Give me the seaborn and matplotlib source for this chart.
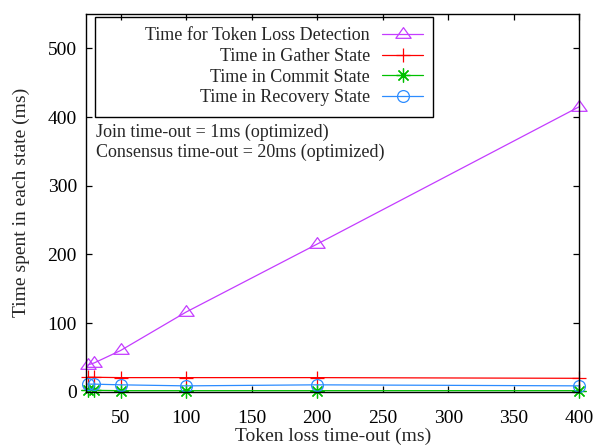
import matplotlib
matplotlib.use("Agg")
import matplotlib.pyplot as plt
from matplotlib.patches import Rectangle
from matplotlib.path import Path
import seaborn as sns
import pandas as pd

# ---- data ----
timeouts = [25, 30, 50, 100, 200, 400]
token_loss = [39, 42, 60, 116, 215, 415]
gather = [21, 21, 20.5, 20.5, 20.5, 19.5]
commit = [2, 2, 1.5, 1.5, 1.5, 1.5]
recovery = [11, 11, 10, 8.5, 10, 8.5]

series_names = ["Time for Token Loss Detection", "Time in Gather State",
                "Time in Commit State", "Time in Recovery State"]
x_ticks = [50, 100, 150, 200, 250, 300, 350, 400]
y_ticks = [0, 100, 200, 300, 400, 500]
notes = ["Join time-out = 1ms (optimized)",
         "Consensus time-out = 20ms (optimized)"]

sns.set_theme(style="ticks")
plt.rcParams["font.family"] = ["Liberation Serif", "DejaVu Serif"]
plt.rcParams["axes.linewidth"] = 1.0

fig = plt.figure(figsize=(5.96, 4.47), dpi=100)
ax = fig.add_axes([86 / 596, 1 - 391.7 / 447, 493.3 / 596, 377.7 / 447])

tri = Path([(0, 0.9), (-1, -0.5), (1, -0.5), (0, 0.9)],
           [Path.MOVETO, Path.LINETO, Path.LINETO, Path.CLOSEPOLY])

styles = [
    dict(color="#c43cff", marker=tri, ms=11, mfc="none"),
    dict(color="#ff0000", marker="+", ms=9.5),
    dict(color="#00c000", marker=(8, 2, 0), ms=10),
    dict(color="#2c8cff", marker="o", ms=8.5, mfc="none"),
]
values = [token_loss, gather, commit, recovery]

for name, vals, st in zip(series_names, values, styles):
    df = pd.DataFrame({"x": timeouts, "y": vals})
    sns.lineplot(data=df, x="x", y="y", ax=ax, label=name,
                 color=st["color"], marker=st["marker"], markersize=st["ms"],
                 markerfacecolor=st.get("mfc", st["color"]),
                 markeredgecolor=st["color"], markeredgewidth=0.9,
                 linewidth=0.9, clip_on=False, errorbar=None)

ax.set_xlim(23.6, 400)
ax.set_ylim(0, 550)
ax.set_xticks(x_ticks)
ax.set_yticks(y_ticks)
ax.tick_params(direction="in", top=True, right=True, length=4, width=0.9,
               labelsize=14, colors="black")
ax.tick_params(axis="x", pad=13)
ax.tick_params(axis="y", pad=6.5)
for s in ax.spines.values():
    s.set_color("black")
    s.set_linewidth(1.0)

ax.set_xlabel("Token loss time-out (ms)", fontsize=14, labelpad=0.5)
ax.set_ylabel("Time spent in each state (ms)", fontsize=14, labelpad=13)

# legend frame
x0 = (95 - 86) / 493.3
x1 = (433 - 86) / 493.3
y_top = (391.7 - 17) / 377.7
y_bot = (391.7 - 117) / 377.7
ax.add_patch(Rectangle((x0, y_bot), x1 - x0, y_top - y_bot, transform=ax.transAxes,
                       fill=False, edgecolor="black", linewidth=1.0, zorder=5))

handles, labels = ax.get_legend_handles_labels()
leg = ax.legend(handles, labels, loc="upper right",
                bbox_to_anchor=((423.3 - 86) / 493.3, (391.7 - 27.5) / 377.7),
                frameon=False, markerfirst=False, fontsize=13,
                handlelength=2.3, handletextpad=0.65, labelspacing=0.2,
                borderpad=0, borderaxespad=0, numpoints=1)

ax.text(0.02, (391.7 - 136.7) / 377.7, notes[0], transform=ax.transAxes,
        fontsize=13, ha="left", va="baseline")
ax.text(0.02, (391.7 - 157) / 377.7, notes[1], transform=ax.transAxes,
        fontsize=13, ha="left", va="baseline")

fig.savefig("out.png", dpi=100)
